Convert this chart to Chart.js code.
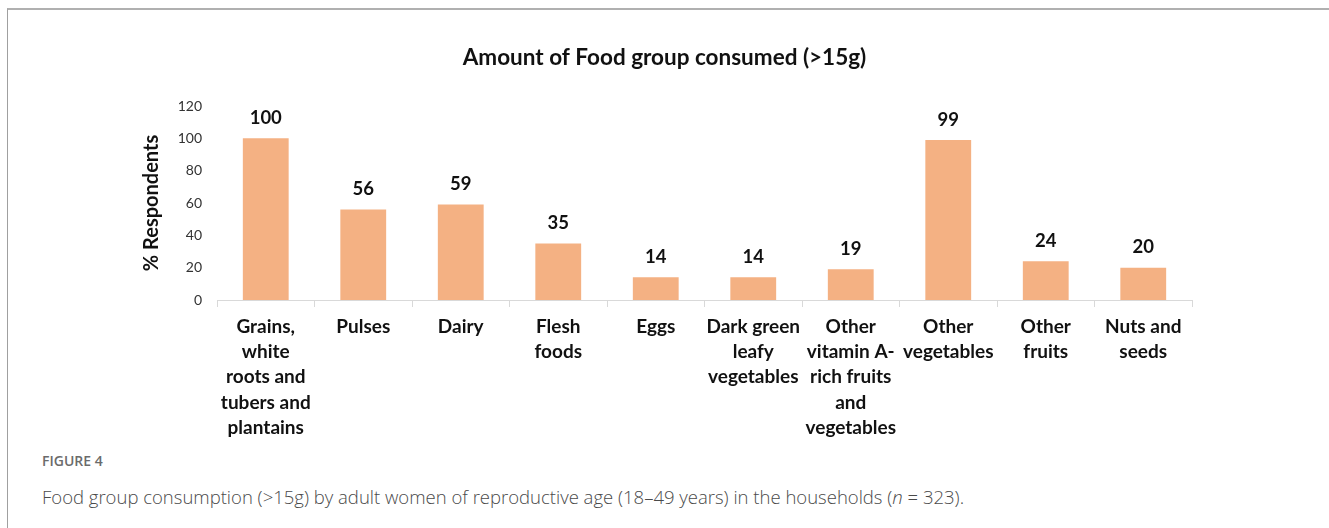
<!DOCTYPE html>
<html>
<head>
<meta charset="utf-8">
<script src="https://cdn.jsdelivr.net/npm/chart.js@4"></script>
<style>
    body { margin: 0; background: #fff; width: 1329px; height: 528px; overflow: hidden; position: relative; }
    #frame { position: absolute; left: 7px; top: 8px; right: 0; bottom: 0; border-top: 2px solid #b0b0b0; border-left: 1px solid #a0a0a0; }
    #wrap { position: absolute; left: 0; top: 0; width: 1329px; height: 445px; }
    .fig { position: absolute; left: 42px; top: 451px; font-family: 'Open Sans', sans-serif; font-size: 14px; font-weight: 600; color: #6b6b6b; }
    .cap { position: absolute; left: 42px; top: 484px; font-family: 'Open Sans', sans-serif; font-size: 18.5px; font-weight: 300; color: #4a4a4a; white-space: nowrap; }
</style>
</head>
<body>
<div id="frame"></div>
<div id="wrap"><canvas id="foodChart"></canvas></div>
<div class="fig">FIGURE 4</div>
<div class="cap">Food group consumption (&gt;15g) by adult women of reproductive age (18–49 years) in the households (<i>n</i> = 323).</div>
<script>
// ==================== DATA ====================
const categories = [
    ['Grains,', 'white', 'roots and', 'tubers and', 'plantains'],
    'Pulses',
    'Dairy',
    ['Flesh', 'foods'],
    'Eggs',
    ['Dark green', 'leafy', 'vegetables'],
    ['Other', 'vitamin A-', 'rich fruits', 'and', 'vegetables'],
    ['Other', 'vegetables'],
    ['Other', 'fruits'],
    ['Nuts and', 'seeds']
];
const respondents = [100, 56, 59, 35, 14, 14, 19, 99, 24, 20];
const yTicks = [0, 20, 40, 60, 80, 100, 120];

const FONT = 'Lato, "Open Sans", sans-serif';

// ==================== VALUE LABELS ====================
const valueLabels = {
    id: 'valueLabels',
    afterDatasetsDraw(chart) {
        const ctx = chart.ctx;
        const meta = chart.getDatasetMeta(0);
        ctx.save();
        ctx.font = 'bold 18.5px ' + FONT;
        ctx.fillStyle = '#111';
        ctx.textAlign = 'center';
        ctx.textBaseline = 'bottom';
        meta.data.forEach((bar, i) => {
            ctx.fillText(respondents[i], bar.x, bar.y - 11);
        });
        ctx.restore();
    }
};

// ==================== CHART ====================
const ctx = document.getElementById('foodChart').getContext('2d');

new Chart(ctx, {
    type: 'bar',
    data: {
        labels: categories,
        datasets: [{
            data: respondents,
            backgroundColor: '#F4B183',
            barPercentage: 0.47,
            categoryPercentage: 1.0
        }]
    },
    options: {
        responsive: true,
        maintainAspectRatio: false,
        animation: false,
        layout: { padding: { left: 137, right: 137, top: 0, bottom: 0 } },
        plugins: {
            legend: { display: false },
            tooltip: { enabled: false },
            title: {
                display: true,
                text: 'Amount of Food group consumed (>15g)',
                color: '#111',
                font: { family: FONT, size: 22.5, weight: 'bold' },
                padding: { top: 44, bottom: 35 }
            }
        },
        scales: {
            x: {
                grid: { display: true, offset: true, drawOnChartArea: false, drawTicks: true, tickLength: 7, color: '#d9d9d9' },
                border: { display: true, color: '#d9d9d9', width: 1 },
                ticks: {
                    color: '#111',
                    maxRotation: 0,
                    autoSkip: false,
                    padding: 7,
                    font: { family: FONT, size: 19, weight: 'bold', lineHeight: 1.33 }
                },
                afterFit: s => { s.height = 145; }
            },
            y: {
                min: 0,
                max: 120,
                grid: { display: false, drawTicks: false },
                border: { display: false },
                afterBuildTicks: s => { s.ticks = yTicks.map(v => ({ value: v })); },
                ticks: {
                    color: '#333',
                    padding: 15,
                    font: { family: FONT, size: 14 }
                },
                title: {
                    display: true,
                    text: '% Respondents',
                    color: '#111',
                    font: { family: FONT, size: 20, weight: 'bold' },
                    padding: { top: 3, bottom: 0 }
                },
                afterFit: s => { s.width = 80; }
            }
        }
    },
    plugins: [valueLabels]
});
</script>
</body>
</html>
